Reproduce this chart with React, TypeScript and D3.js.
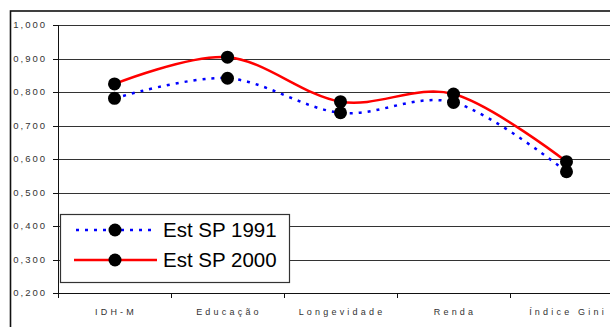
import React from "react";
import * as d3 from "d3";

const categories = ["IDH-M", "Educação", "Longevidade", "Renda", "Índice Gini"];
const series1991 = [0.781, 0.841, 0.738, 0.769, 0.562];
const series2000 = [0.824, 0.904, 0.771, 0.794, 0.592];
const yTicks = [0.2, 0.3, 0.4, 0.5, 0.6, 0.7, 0.8, 0.9, 1.0];
const seriesNames = ["Est SP 1991", "Est SP 2000"];

const W = 610;
const H = 327;
const left = 58;
const band = 113;
const top = 25;
const bottom = 293;

export default function App() {
  const x = d3
    .scaleBand<string>()
    .domain(categories)
    .range([left, left + band * categories.length])
    .paddingInner(0)
    .paddingOuter(0);
  const y = d3.scaleLinear().domain([0.2, 1.0]).range([bottom, top]);
  const cx = (c: string) => (x(c) as number) + x.bandwidth() / 2;
  const fmt = (v: number) => v.toFixed(3).replace(".", ",");

  const line = d3
    .line<number>()
    .x((_, i) => cx(categories[i]))
    .y((d) => y(d))
    .curve(d3.curveCatmullRom.alpha(0));

  const tickXs = d3.range(categories.length + 1).map((i) => left + band * i);

  return (
    <svg
      width={W}
      height={H}
      style={{ position: "absolute", left: 0, top: 0, background: "#fff" }}
      fontFamily="'Liberation Sans', Arial, sans-serif"
    >
      {/* outer chart frame */}
      <rect x={10.5} y={11} width={W + 20} height={H + 20} fill="none" stroke="#111" strokeWidth={1.6} />

      {/* horizontal gridlines */}
      {yTicks.map((t) => (
        <line key={t} x1={left} x2={W} y1={Math.round(y(t)) + 0.5} y2={Math.round(y(t)) + 0.5} stroke="#333" strokeWidth={1} />
      ))}

      {/* y axis */}
      <line x1={left + 0.5} x2={left + 0.5} y1={top} y2={bottom + 5} stroke="#111" strokeWidth={1} />
      {yTicks.map((t) => (
        <g key={"yt" + t}>
          <line x1={left - 5} x2={left} y1={Math.round(y(t)) + 0.5} y2={Math.round(y(t)) + 0.5} stroke="#111" />
          <text x={47} y={y(t)} dy="0.35em" textAnchor="end" fontSize={9.5} letterSpacing={2} fill="#333">
            {fmt(t)}
          </text>
        </g>
      ))}

      {/* x axis */}
      <line x1={left} x2={W} y1={bottom + 0.5} y2={bottom + 0.5} stroke="#111" />
      {tickXs.map((tx) => (
        <line key={"xt" + tx} x1={tx + 0.5} x2={tx + 0.5} y1={bottom} y2={bottom + 5} stroke="#111" />
      ))}
      {categories.map((c) => (
        <text key={c} x={cx(c) + 1.5} y={315} textAnchor="middle" fontSize={9} letterSpacing={3.2} fill="#333">
          {c}
        </text>
      ))}

      {/* series */}
      <path d={line(series1991) ?? ""} fill="none" stroke="#0000ff" strokeWidth={2.5} strokeDasharray="3 6" />
      <path d={line(series2000) ?? ""} fill="none" stroke="#ff0000" strokeWidth={2.5} />
      {series1991.map((v, i) => (
        <circle key={"a" + i} cx={cx(categories[i])} cy={y(v)} r={6.5} fill="#000" />
      ))}
      {series2000.map((v, i) => (
        <circle key={"b" + i} cx={cx(categories[i])} cy={y(v)} r={6.5} fill="#000" />
      ))}

      {/* legend */}
      <rect x={60.5} y={214.5} width={229} height={68} fill="#fff" stroke="#333" strokeWidth={1.2} />
      <line x1={76} x2={154} y1={230} y2={230} stroke="#0000ff" strokeWidth={2.5} strokeDasharray="3 6" />
      <circle cx={115} cy={230} r={6.5} fill="#000" />
      <text x={163} y={230} dy="0.35em" fontSize={20.5} fill="#000">{seriesNames[0]}</text>
      <line x1={74} x2={157} y1={260} y2={260} stroke="#ff0000" strokeWidth={2.5} />
      <circle cx={115} cy={260} r={6.5} fill="#000" />
      <text x={163} y={260} dy="0.35em" fontSize={20.5} fill="#000">{seriesNames[1]}</text>
    </svg>
  );
}
